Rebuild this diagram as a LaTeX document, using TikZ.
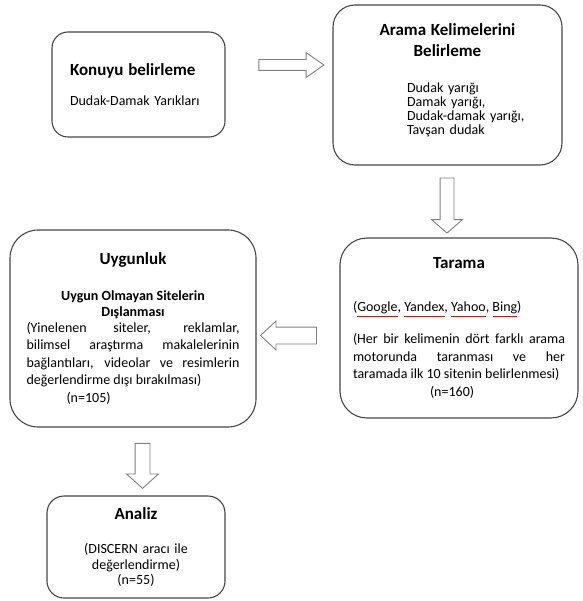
\documentclass[tikz,border=0pt]{standalone}
\usepackage{fontspec}
\setmainfont{Carlito}
\usetikzlibrary{shapes.arrows}

% red spell-check wave under a word
\newdimen\wavewd
\newsavebox{\wavebox}
\newcommand{\spellwave}[1]{\sbox{\wavebox}{#1}\wavewd=\wd\wavebox \rlap{\usebox{\wavebox}}{\color{red}\hbox to \wavewd{\xleaders\hbox{\rule[-5.5pt]{0.8pt}{0.45pt}\rule[-4.8pt]{0.8pt}{0.45pt}}\hfill}}}
\newcommand{\titlefont}{\fontsize{17}{21}\selectfont\bfseries}
\newcommand{\stagefont}{\fontsize{14}{17.5}\selectfont\hyphenpenalty=10000\relax}

\begin{document}
\begin{tikzpicture}[
    x=1pt, y=-1pt,
    stage/.style={rectangle, draw=black!72, fill=white, line width=1.1pt, inner sep=0pt, font=\stagefont},
    blockarrow/.style={single arrow, draw=black!50, fill=white, line width=0.9pt, inner xsep=0pt}
]
\useasboundingbox (0,0) rectangle (582,601);

% Row 1
\node[stage, minimum width=173, minimum height=105, rounded corners=16pt, text width=137, align=left] (konu) at (138.5,84.5)
    {{\titlefont Konuyu belirleme\par}\vspace{13pt}Dudak-Damak Yarıkları};
\node[stage, minimum width=229, minimum height=160, rounded corners=22pt, text width=200, align=center] (arama) at (447.5,85)
    {{\titlefont Arama Kelimelerini\\Belirleme\par}\vspace{22pt}%
     {\leftskip=59.5pt\rightskip=0pt plus 1fil\fontsize{14}{14}\selectfont Dudak yarığı\\Damak yarığı,\\Dudak-damak yarığı,\\Tavşan dudak\par}%
     \nointerlineskip\kern10pt\hbox{}};
\node[blockarrow, minimum height=65, minimum width=24, inner ysep=5pt, single arrow head extend=7pt, single arrow tip angle=70] (ar1) at (287.5,65) {};

% Row 2
\node[stage, minimum width=238, minimum height=180, rounded corners=27pt, text width=212, align=justify] (tarama) at (459,328)
    {{\centering\titlefont Tarama\par}\vspace{25pt}%
     (\spellwave{Google}, \spellwave{Yandex}, \spellwave{Yahoo}, \spellwave{Bing})\par\vspace{15pt}%
     (Her bir kelimenin dört farklı arama\linebreak motorunda taranması ve her\linebreak taramada ilk 10 sitenin belirlenmesi)\\
     \hspace*{77pt}(n=160)};
\node[blockarrow, rotate=-90, minimum height=55, minimum width=30, inner ysep=6.5pt, single arrow head extend=8.5pt, single arrow tip angle=98] (ar2) at (447,202.5) {};

\node[stage, minimum width=246, minimum height=197, rounded corners=28pt, text width=213, align=justify] (uygun) at (133,328.5)
    {{\centering\titlefont Uygunluk\par}\vspace{20pt}%
     {\centering\bfseries\fontsize{14}{16}\selectfont Uygun Olmayan Sitelerin\\Dışlanması\par}\vspace{-1.5pt}%
     (Yinelenen siteler, reklamlar,\linebreak bilimsel araştırma makalelerinin\linebreak bağlantıları, videolar ve resimlerin\linebreak değerlendirme dışı bırakılması)\\
     \hspace*{40pt}(n=105)};
\node[blockarrow, rotate=180, minimum height=56, minimum width=28, inner ysep=8pt, single arrow head extend=6pt, single arrow tip angle=86] (ar3) at (293,335.5) {};

% Row 3
\node[blockarrow, rotate=-90, minimum height=45, minimum width=31, inner ysep=7pt, single arrow head extend=8.5pt, single arrow tip angle=96] (ar4) at (142.5,462.5) {};
\node[stage, minimum width=178, minimum height=102, rounded corners=17pt, text width=160, align=center] (analiz) at (136,547)
    {{\titlefont Analiz\par}\vspace{19pt}%
     {\fontsize{14}{15.5}\selectfont (DISCERN aracı ile\\değerlendirme)\\(n=55)\par}};

\end{tikzpicture}
\end{document}
